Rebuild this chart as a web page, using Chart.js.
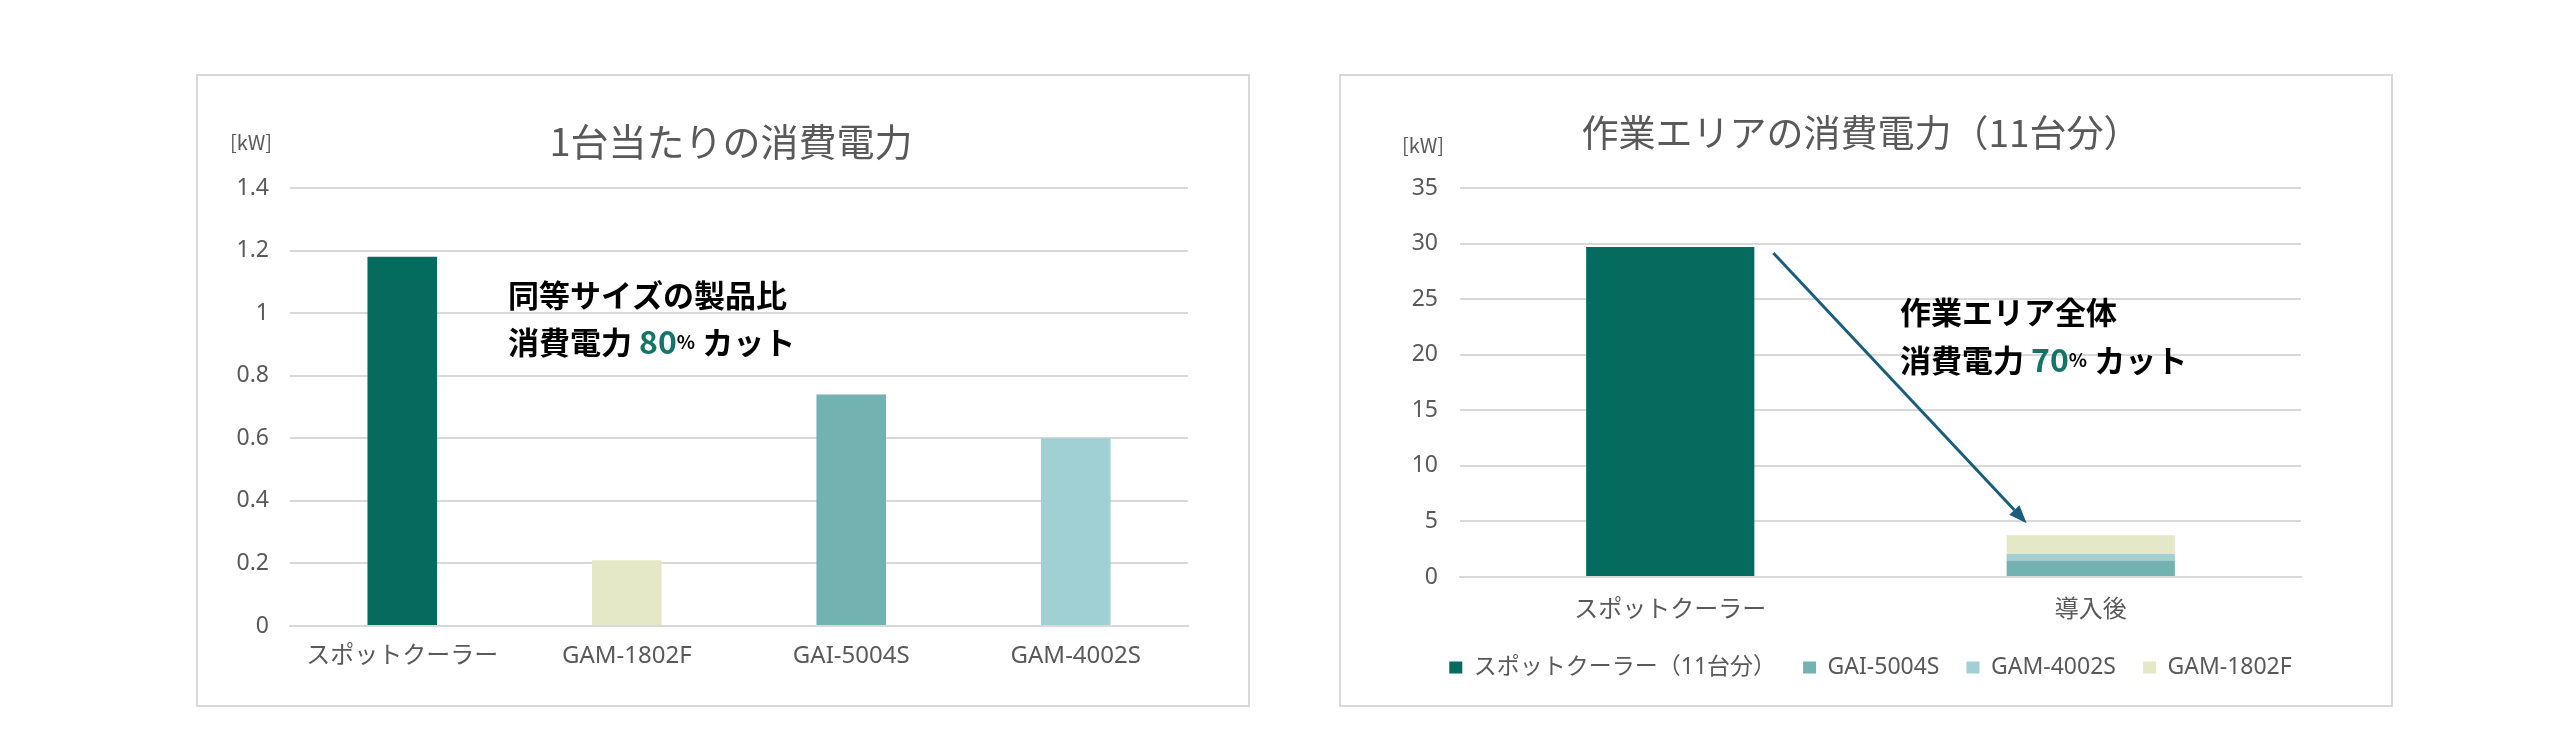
<!DOCTYPE html>
<html>
<head>
<meta charset="utf-8">
<script src="https://cdn.jsdelivr.net/npm/chart.js@4.4.1/dist/chart.umd.min.js"></script>
<style>
  body { margin: 0; background: #fff; width: 2560px; height: 748px; overflow: hidden; }
  .frame { position: absolute; box-sizing: border-box; border: 2px solid #d9d9d9; }
  .holder { position: absolute; }
</style>
</head>
<body>
<div class="frame" style="left:196px;top:74px;width:1054px;height:633px"></div>
<div class="holder" style="left:197px;top:75px;width:1051px;height:630px"><canvas id="unitChart"></canvas></div>
<div class="frame" style="left:1339px;top:74px;width:1054px;height:633px"></div>
<div class="holder" style="left:1340px;top:75px;width:1051px;height:630px"><canvas id="areaChart"></canvas></div>
<script>
// 1台当たりの消費電力
const unitLabels = ['スポットクーラー', 'GAM-1802F', 'GAI-5004S', 'GAM-4002S'];
const unitPower = [1.18, 0.21, 0.74, 0.6];
const unitColors = ['#056b5f', '#e4e8c6', '#72b2b1', '#a0cfd4'];

// 作業エリアの消費電力（11台分）
const areaLabels = ['スポットクーラー', '導入後'];
const areaSeries = ['スポットクーラー（11台分）', 'GAI-5004S', 'GAM-4002S', 'GAM-1802F'];
const areaSpot = [29.7, null];
const areaGai5004 = [null, 1.48];
const areaGam4002 = [null, 0.6];
const areaGam1802 = [null, 1.68];
const areaColors = ['#056b5f', '#72b2b1', '#a0cfd4', '#e4e8c6'];

const textGray = '#595959';
const gridGray = '#d9d9d9';
const accent = '#127566';
const cjk = '"Noto Sans CJK JP"';

Chart.defaults.font.family = '"Noto Sans", "Noto Sans CJK JP", sans-serif';
Chart.defaults.color = textGray;

// title, unit label, callout text and arrow
const decoPlugin = {
    id: 'deco',
    afterLayout(chart, args, opts) {
        // the original legend sits a little right of centre
        if (opts.legendShift && chart.legend) {
            chart.legend.left += opts.legendShift;
            chart.legend.right += opts.legendShift;
        }
    },
    afterDraw(chart, args, opts) {
        const ctx = chart.ctx;
        ctx.save();
        ctx.textBaseline = 'middle';

        ctx.fillStyle = textGray;
        ctx.textAlign = 'center';
        ctx.font = opts.titleSize + 'px ' + cjk;
        ctx.fillText(opts.title, opts.titleX, opts.titleY);

        ctx.textAlign = 'left';
        ctx.font = '20px ' + cjk;
        ctx.fillText('[kW]', opts.unitX, opts.unitY);

        opts.notes.forEach(line => {
            let x = opts.noteX;
            line.parts.forEach(p => {
                ctx.font = p.font;
                ctx.fillStyle = p.color || '#000';
                ctx.fillText(p.text, x, line.y);
                x += ctx.measureText(p.text).width;
            });
        });

        if (opts.arrow) {
            const xs = chart.scales.x;
            const ys = chart.scales.y;
            const half = chart.getDatasetMeta(0).data[0].width / 2;
            const x1 = xs.getPixelForValue(0) + half + 19;
            const y1 = ys.getPixelForValue(areaSpot[0]) + 6;
            const total = areaGai5004[1] + areaGam4002[1] + areaGam1802[1];
            const x2 = xs.getPixelForValue(1) - half + 20;
            const y2 = ys.getPixelForValue(total) - 12;
            const ang = Math.atan2(y2 - y1, x2 - x1);
            const headLen = 18;
            const headW = 7;
            ctx.strokeStyle = '#1b5e7c';
            ctx.fillStyle = '#1b5e7c';
            ctx.lineWidth = 3;
            ctx.beginPath();
            ctx.moveTo(x1, y1);
            ctx.lineTo(x2 - Math.cos(ang) * headLen, y2 - Math.sin(ang) * headLen);
            ctx.stroke();
            ctx.beginPath();
            ctx.moveTo(x2, y2);
            ctx.lineTo(x2 - Math.cos(ang) * headLen - Math.sin(ang) * headW, y2 - Math.sin(ang) * headLen + Math.cos(ang) * headW);
            ctx.lineTo(x2 - Math.cos(ang) * headLen + Math.sin(ang) * headW, y2 - Math.sin(ang) * headLen - Math.cos(ang) * headW);
            ctx.closePath();
            ctx.fill();
        }
        ctx.restore();
    }
};

function noteLines(first, pct, y1, y2) {
    const bold = 'bold 31px ' + cjk;
    return [
        { y: y1, parts: [{ text: first, font: bold }] },
        { y: y2, parts: [
            { text: '消費電力 ', font: bold },
            { text: pct, font: 'bold 32px ' + cjk, color: accent },
            { text: '%', font: 'bold 19px ' + cjk },
            { text: ' カット', font: bold }
        ] }
    ];
}

const tickText = v => String(Number(v.toFixed(2)));

new Chart(document.getElementById('unitChart'), {
    type: 'bar',
    data: {
        labels: unitLabels,
        datasets: [{
            data: unitPower,
            backgroundColor: unitColors,
            barPercentage: 0.31,
            categoryPercentage: 1
        }]
    },
    options: {
        responsive: true,
        maintainAspectRatio: false,
        animation: false,
        layout: { padding: { left: 13, right: 60, top: 113, bottom: 19 } },
        scales: {
            x: {
                grid: { display: false },
                border: { display: true, color: gridGray, width: 2 },
                ticks: { font: { size: 24 }, color: textGray, padding: 8, maxRotation: 0 },
                afterFit: s => { s.height = 60; }
            },
            y: {
                min: 0,
                max: 1.4,
                ticks: { stepSize: 0.2, font: { size: 23 }, color: textGray, padding: 21, callback: tickText },
                grid: { color: gridGray, lineWidth: 2, drawTicks: false },
                border: { display: false },
                afterFit: s => { s.width = 80; }
            }
        },
        plugins: {
            legend: { display: false },
            tooltip: { enabled: false },
            deco: {
                title: '1台当たりの消費電力',
                titleSize: 38,
                titleX: 534,
                titleY: 67,
                unitX: 33,
                unitY: 67,
                noteX: 311,
                notes: noteLines('同等サイズの製品比', '80', 220, 267)
            }
        }
    },
    plugins: [decoPlugin]
});

const areaData = [areaSpot, areaGai5004, areaGam4002, areaGam1802];

new Chart(document.getElementById('areaChart'), {
    type: 'bar',
    data: {
        labels: areaLabels,
        datasets: areaSeries.map((name, i) => ({
            label: name,
            data: areaData[i],
            backgroundColor: areaColors[i],
            barPercentage: 0.4,
            categoryPercentage: 1
        }))
    },
    options: {
        responsive: true,
        maintainAspectRatio: false,
        animation: false,
        layout: { padding: { left: 20, right: 90, top: 113, bottom: 16 } },
        scales: {
            x: {
                stacked: true,
                grid: { display: false },
                border: { display: true, color: gridGray, width: 2 },
                ticks: { font: { size: 24 }, color: textGray, padding: 11, maxRotation: 0 },
                afterFit: s => { s.height = 52; }
            },
            y: {
                stacked: true,
                min: 0,
                max: 35,
                ticks: { stepSize: 5, font: { size: 23 }, color: textGray, padding: 22, callback: tickText },
                grid: { color: gridGray, lineWidth: 2, drawTicks: false },
                border: { display: false },
                afterFit: s => { s.width = 100; }
            }
        },
        plugins: {
            legend: {
                position: 'bottom',
                labels: { boxWidth: 13, boxHeight: 12, padding: 27, font: { size: 23 }, color: textGray }
            },
            tooltip: { enabled: false },
            deco: {
                title: '作業エリアの消費電力（11台分）',
                titleSize: 37,
                titleX: 521,
                titleY: 58,
                unitX: 62,
                unitY: 70,
                noteX: 560,
                notes: noteLines('作業エリア全体', '70', 237, 285),
                arrow: true,
                legendShift: 40
            }
        }
    },
    plugins: [decoPlugin]
});
</script>
</body>
</html>
